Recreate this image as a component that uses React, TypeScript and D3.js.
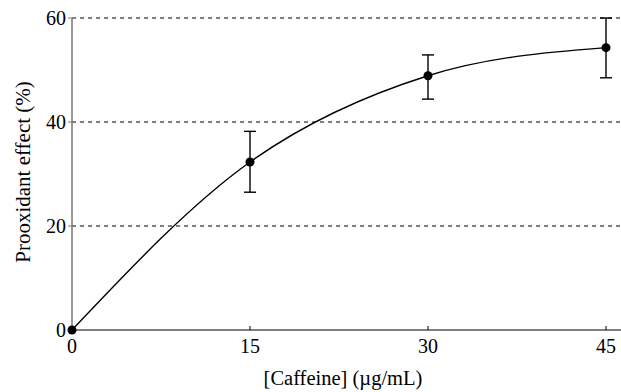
import React, { useEffect, useRef } from 'react';
import * as d3 from 'd3';

// Caffeine concentration (µg/mL) and measured prooxidant effect (%)
const concentrations = [0, 15, 30, 45];
const effectMeans = [0, 32.3, 48.9, 54.3];
const effectLow = [0, 26.5, 44.4, 48.5];
const effectHigh = [0, 38.2, 52.9, 60];
const xTicks = [0, 15, 30, 45];
const yTicks = [0, 20, 40, 60];

export default function App() {
  const ref = useRef<SVGSVGElement>(null);

  useEffect(() => {
    const W = 621;
    const H = 392;
    const margin = { top: 18, right: 15, bottom: 62, left: 72 };
    const svg = d3.select(ref.current);
    svg.selectAll('*').remove();

    const x = d3.scaleLinear().domain([0, 45]).range([margin.left, margin.left + 534]);
    const y = d3.scaleLinear().domain([0, 60]).range([H - margin.bottom, margin.top]);
    const font = "'Liberation Serif', 'Times New Roman', serif";

    // dashed grid lines
    svg.append('g')
      .selectAll('line')
      .data(yTicks.filter((t) => t > 0))
      .join('line')
      .attr('x1', margin.left)
      .attr('x2', W)
      .attr('y1', (d) => y(d))
      .attr('y2', (d) => y(d))
      .attr('stroke', '#000')
      .attr('stroke-width', 1)
      .attr('stroke-dasharray', '4,4');

    // y axis
    svg.append('line')
      .attr('x1', x(0)).attr('x2', x(0))
      .attr('y1', y(60)).attr('y2', y(0))
      .attr('stroke', '#777').attr('stroke-width', 1.5);
    svg.append('g')
      .selectAll('line')
      .data(yTicks)
      .join('line')
      .attr('x1', x(0) - 4).attr('x2', x(0))
      .attr('y1', (d) => y(d)).attr('y2', (d) => y(d))
      .attr('stroke', '#777');
    svg.append('g')
      .selectAll('text')
      .data(yTicks)
      .join('text')
      .attr('x', x(0) - 6)
      .attr('y', (d) => y(d))
      .attr('dy', '0.35em')
      .attr('text-anchor', 'end')
      .style('font-family', font)
      .style('font-size', '20px')
      .text((d) => d);

    // x axis
    svg.append('line')
      .attr('x1', x(0)).attr('x2', W)
      .attr('y1', y(0)).attr('y2', y(0))
      .attr('stroke', '#000').attr('stroke-width', 1.2);
    svg.append('g')
      .selectAll('line')
      .data(xTicks)
      .join('line')
      .attr('x1', (d) => x(d)).attr('x2', (d) => x(d))
      .attr('y1', y(0) - 4).attr('y2', y(0))
      .attr('stroke', '#000');
    svg.append('g')
      .selectAll('text')
      .data(xTicks)
      .join('text')
      .attr('x', (d) => x(d))
      .attr('y', y(0) + 23)
      .attr('text-anchor', 'middle')
      .style('font-family', font)
      .style('font-size', '20px')
      .text((d) => d);

    // axis titles
    svg.append('text')
      .attr('x', 343)
      .attr('y', 385)
      .attr('text-anchor', 'middle')
      .style('font-family', font)
      .style('font-size', '20.5px')
      .text('[Caffeine] (µg/mL)');
    svg.append('text')
      .attr('transform', `translate(30,${(y(0) + y(60)) / 2 - 2}) rotate(-90)`)
      .attr('text-anchor', 'middle')
      .style('font-family', font)
      .style('font-size', '21px')
      .text('Prooxidant effect (%)');

    const pts = concentrations.map((c, i) => ({ c, m: effectMeans[i], lo: effectLow[i], hi: effectHigh[i] }));

    // fitted curve
    const line = d3.line<typeof pts[0]>()
      .x((d) => x(d.c))
      .y((d) => y(d.m))
      .curve(d3.curveMonotoneX);
    svg.append('path')
      .datum(pts)
      .attr('fill', 'none')
      .attr('stroke', '#000')
      .attr('stroke-width', 1.4)
      .attr('d', line);

    // error bars
    const eb = svg.append('g').attr('stroke', '#000').attr('stroke-width', 1.4);
    pts.filter((d) => d.hi > d.lo).forEach((d) => {
      eb.append('line').attr('x1', x(d.c)).attr('x2', x(d.c)).attr('y1', y(d.lo)).attr('y2', y(d.hi));
      eb.append('line').attr('x1', x(d.c) - 6).attr('x2', x(d.c) + 6).attr('y1', y(d.lo)).attr('y2', y(d.lo));
      eb.append('line').attr('x1', x(d.c) - 6).attr('x2', x(d.c) + 6).attr('y1', y(d.hi)).attr('y2', y(d.hi));
    });

    // points
    svg.append('g')
      .selectAll('circle')
      .data(pts)
      .join('circle')
      .attr('cx', (d) => x(d.c))
      .attr('cy', (d) => y(d.m))
      .attr('r', 4.5)
      .attr('fill', '#000');
  }, []);

  return (
    <svg ref={ref} width={621} height={392} style={{ position: 'absolute', left: 0, top: 0, background: '#fff' }} />
  );
}
